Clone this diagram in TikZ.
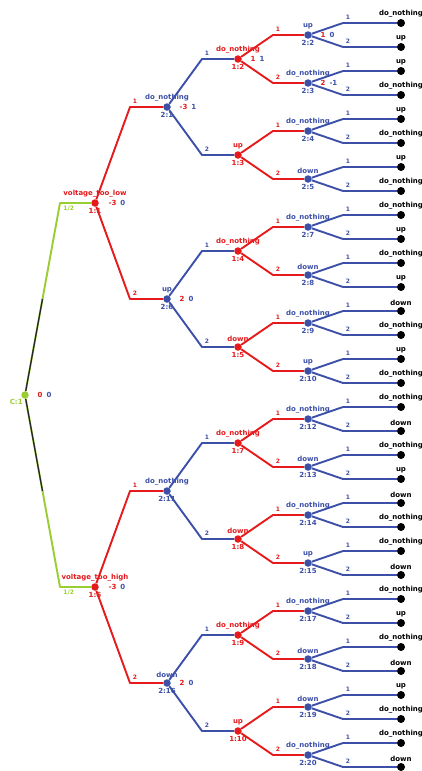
\documentclass[tikz,border=0pt]{standalone}
\usepackage{fontspec}
\setmainfont{DejaVu Sans}
\usetikzlibrary{calc,positioning}
\definecolor{PlayerOne}{HTML}{E41A1C}
\definecolor{PlayerTwo}{HTML}{3C50A8}
\definecolor{Chance}{HTML}{9ACD32}

\begin{document}
\begin{tikzpicture}[x=1pt, y=-1pt,
  branch/.style={line width=1.9pt, line join=round},
  dotnode/.style={circle, inner sep=0pt, minimum size=7.5pt},
  one/.style={dotnode, fill=PlayerOne},
  two/.style={dotnode, fill=PlayerTwo},
  leaf/.style={dotnode, fill=black, minimum size=8pt},
  tag/.style={font=\bfseries\fontsize{7}{8}\selectfont, inner sep=0.5pt},
  idx/.style={tag, font=\bfseries\fontsize{6}{7}\selectfont, above right, xshift=1.5pt, yshift=2.5pt},
  prob/.style={tag, font=\bfseries\fontsize{6}{7}\selectfont, below right, xshift=2pt, yshift=-1.5pt},
  every label/.append style={label distance=1pt}
]
  \useasboundingbox (0,0) rectangle (422,771);

  % chance node and first moves
  \node[dotnode, fill=Chance, label={[tag, text=Chance, label distance=0pt]-115:{C:1}}] (root) at (25,395) {};
  \node[tag, right=8pt of root] (pay-root) {\textcolor{PlayerOne}{0}\hspace{4pt}\textcolor{PlayerTwo}{0}};

  \node[one, label={[tag, text=PlayerOne]above:voltage\_too\_low}, label={[tag, text=PlayerOne]below:{1:1}}] (a1) at (95,203) {};
  \node[one, label={[tag, text=PlayerOne]above:voltage\_too\_high}, label={[tag, text=PlayerOne]below:{1:6}}] (a2) at (95,587) {};
  \node[tag, right=9pt of a1] (pay-a1) {\textcolor{PlayerOne}{-3}\hspace{4pt}\textcolor{PlayerTwo}{0}};
  \node[tag, right=9pt of a2] (pay-a2) {\textcolor{PlayerOne}{-3}\hspace{4pt}\textcolor{PlayerTwo}{0}};

  % player 2, first reply
  \node[two, label={[tag, text=PlayerTwo]above:do\_nothing}, label={[tag, text=PlayerTwo]below:{2:1}}]  (b1) at (167,107) {};
  \node[two, label={[tag, text=PlayerTwo]above:up}, label={[tag, text=PlayerTwo]below:{2:6}}]          (b2) at (167,299) {};
  \node[two, label={[tag, text=PlayerTwo]above:do\_nothing}, label={[tag, text=PlayerTwo]below:{2:11}}] (b3) at (167,491) {};
  \node[two, label={[tag, text=PlayerTwo]above:down}, label={[tag, text=PlayerTwo]below:{2:16}}]       (b4) at (167,683) {};
  \node[tag, right=8pt of b1] (pay-b1) {\textcolor{PlayerOne}{-3}\hspace{4pt}\textcolor{PlayerTwo}{1}};
  \node[tag, right=8pt of b2] (pay-b2) {\textcolor{PlayerOne}{2}\hspace{4pt}\textcolor{PlayerTwo}{0}};
  \node[tag, right=8pt of b4] (pay-b4) {\textcolor{PlayerOne}{2}\hspace{4pt}\textcolor{PlayerTwo}{0}};

  % player 1, second move
  \foreach \num/\lab [count=\i] in {2/do\_nothing, 3/up, 4/do\_nothing, 5/down,
                                    7/do\_nothing, 8/down, 9/do\_nothing, 10/up}
    \node[one, label={[tag, text=PlayerOne]above:\lab}, label={[tag, text=PlayerOne]below:{1:\num}}]
      (c\i) at (238,{59+96*(\i-1)}) {};
  \node[tag, right=8pt of c1] (pay-c1) {\textcolor{PlayerOne}{1}\hspace{4pt}\textcolor{PlayerTwo}{1}};

  % player 2, second reply
  \foreach \num/\lab [count=\j] in {2/up, 3/do\_nothing, 4/do\_nothing, 5/down,
                                    7/do\_nothing, 8/down, 9/do\_nothing, 10/up,
                                    12/do\_nothing, 13/down, 14/do\_nothing, 15/up,
                                    17/do\_nothing, 18/down, 19/down, 20/do\_nothing}
    \node[two, label={[tag, text=PlayerTwo]above:\lab}, label={[tag, text=PlayerTwo]below:{2:\num}}]
      (d\j) at (308,{35+48*(\j-1)}) {};
  \node[tag, right=8pt of d1] (pay-d1) {\textcolor{PlayerOne}{1}\hspace{4pt}\textcolor{PlayerTwo}{0}};
  \node[tag, right=8pt of d2] (pay-d2) {\textcolor{PlayerOne}{2}\hspace{4pt}\textcolor{PlayerTwo}{-1}};

  % outcomes
  \foreach \lab [count=\k] in {do\_nothing, up, up, do\_nothing, up, do\_nothing, up, do\_nothing,
                               do\_nothing, up, do\_nothing, up, down, do\_nothing, up, do\_nothing,
                               do\_nothing, down, do\_nothing, up, down, do\_nothing, do\_nothing, down,
                               do\_nothing, up, do\_nothing, down, up, do\_nothing, do\_nothing, down}
    \node[leaf, label={[tag]above:\lab}] (t\k) at (401,{23+24*(\k-1)}) {};

  % chance branches
  \coordinate (ha1) at ($(a1)+(-35,0)$);
  \coordinate (ha2) at ($(a2)+(-35,0)$);
  \draw[branch, Chance] (root) -- (ha1) node[prob] {1/2} -- (a1);
  \draw[branch, Chance] (root) -- (ha2) node[prob] {1/2} -- (a2);
  \draw[line width=1.3pt, black!85] (root) -- ($(root)!0.5!(ha1)$);
  \draw[line width=1.3pt, black!85] (root) -- ($(root)!0.5!(ha2)$);

  % player branches
  \foreach \p/\c/\k in {a1/b1/1, a1/b2/2, a2/b3/1, a2/b4/2}
    \draw[branch, PlayerOne] (\p) -- ($(\c)+(-37,0)$) node[idx] {\k} -- (\c);
  \foreach \i in {1,...,8} {
    \pgfmathtruncatemacro\p{(\i+1)/2}
    \pgfmathtruncatemacro\k{2-mod(\i,2)}
    \draw[branch, PlayerTwo] (b\p) -- ($(c\i)+(-36,0)$) node[idx] {\k} -- (c\i);
  }
  \foreach \j in {1,...,16} {
    \pgfmathtruncatemacro\p{(\j+1)/2}
    \pgfmathtruncatemacro\k{2-mod(\j,2)}
    \draw[branch, PlayerOne] (c\p) -- ($(d\j)+(-35,0)$) node[idx] {\k} -- (d\j);
  }
  \foreach \t in {1,...,32} {
    \pgfmathtruncatemacro\p{(\t+1)/2}
    \pgfmathtruncatemacro\k{2-mod(\t,2)}
    \draw[branch, PlayerTwo] (d\p) -- ($(t\t)+(-58,0)$) node[idx] {\k} -- (t\t);
  }
\end{tikzpicture}
\end{document}
